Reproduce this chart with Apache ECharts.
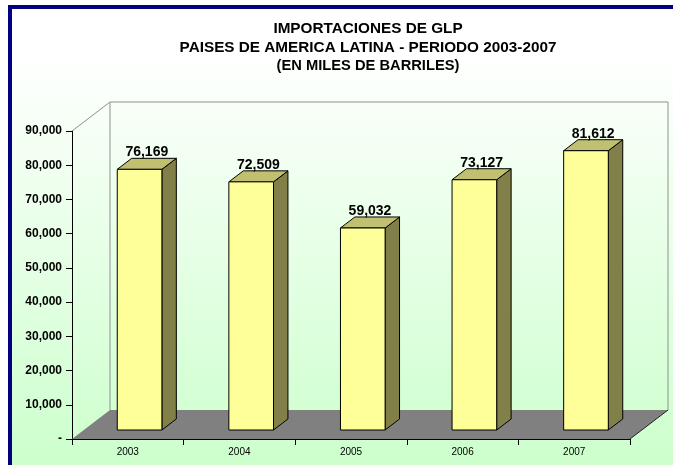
<!DOCTYPE html>
<html>
<head>
<meta charset="utf-8">
<script src="https://cdn.jsdelivr.net/npm/echarts@6/dist/echarts.min.js"></script>
<style>
  html, body { margin: 0; padding: 0; background: #fff; }
  #chart { width: 673px; height: 465px; }
</style>
</head>
<body>
<div id="chart"></div>
<script>
const years = ["2003", "2004", "2005", "2006", "2007"];
const imports = [76169, 72509, 59032, 73127, 81612];
const yMax = 90000;
const yStep = 10000;

// 3D depth of the plot box (back wall offset from the front plane)
const DX = 38;
const DY = -29;
const BAR_FRONT = 0.31; // bar sits in the middle of the floor depth
const BAR_DEPTH = 0.38;

const fmt = (v) => v.toLocaleString("en-US");

const chart = echarts.init(document.getElementById("chart"));

function renderFrame(params, api) {
  const cs = params.coordSys;
  const x = cs.x, yt = cs.y, w = cs.width, yb = cs.y + cs.height;
  return {
    type: "group",
    children: [
      {
        type: "polygon",
        shape: { points: [[x, yb], [x + w, yb], [x + w + DX, yb + DY], [x + DX, yb + DY]] },
        style: { fill: "#808080", stroke: null },
      },
      {
        type: "line",
        shape: { x1: x + w, y1: yb, x2: x + w + DX, y2: yb + DY },
        style: { stroke: "#222", lineWidth: 1 },
      },
      {
        type: "polyline",
        shape: { points: [[x + DX, yb + DY], [x + DX, yt + DY], [x + w + DX, yt + DY], [x + w + DX, yb + DY]] },
        style: { stroke: "#909090", fill: null, lineWidth: 1 },
      },
      {
        type: "line",
        shape: { x1: x, y1: yt, x2: x + DX, y2: yt + DY },
        style: { stroke: "#909090", lineWidth: 1 },
      },
    ],
  };
}

function renderBar(params, api) {
  const i = api.value(0);
  const v = api.value(1);
  const top = api.coord([i, v]);
  const base = api.coord([i, 0]);
  const w = api.size([1, 0])[0] * 0.4;
  const fx = BAR_FRONT * DX, fy = BAR_FRONT * DY;
  const sx = BAR_DEPTH * DX, sy = BAR_DEPTH * DY;
  const x0 = top[0] - w / 2 + fx;
  const x1 = x0 + w;
  const yTop = top[1] + fy;
  const yBot = base[1] + fy;
  const edge = { stroke: "#000", lineWidth: 1 };
  return {
    type: "group",
    children: [
      {
        type: "polygon",
        shape: { points: [[x1, yTop], [x1 + sx, yTop + sy], [x1 + sx, yBot + sy], [x1, yBot]] },
        style: Object.assign({ fill: "#808048" }, edge),
      },
      {
        type: "polygon",
        shape: { points: [[x0, yTop], [x0 + sx, yTop + sy], [x1 + sx, yTop + sy], [x1, yTop]] },
        style: Object.assign({ fill: "#c0c070" }, edge),
      },
      {
        type: "rect",
        shape: { x: x0, y: yTop, width: w, height: yBot - yTop },
        style: Object.assign({ fill: "#ffff99" }, edge),
      },
      {
        type: "text",
        style: {
          text: fmt(v),
          x: (x0 + x1) / 2 + sx / 2,
          y: yTop + sy + 1,
          align: "center",
          verticalAlign: "bottom",
          font: "bold 14px 'Liberation Sans', Arial, sans-serif",
          fill: "#000",
        },
      },
    ],
  };
}

const option = {
  animation: false,
  backgroundColor: "#fff",
  textStyle: { fontFamily: "'Liberation Sans', Arial, sans-serif" },
  graphic: [
    {
      type: "rect",
      z: -10,
      shape: { x: 12, y: 9, width: 661, height: 456 },
      style: {
        fill: new echarts.graphic.LinearGradient(0, 0, 0, 1, [
          { offset: 0, color: "#ffffff" },
          { offset: 0.1, color: "#ffffff" },
          { offset: 1, color: "#ccffcc" },
        ]),
      },
    },
    { type: "rect", z: -5, shape: { x: 8, y: 5, width: 665, height: 4 }, style: { fill: "#000080" } },
    { type: "rect", z: -5, shape: { x: 8, y: 5, width: 4, height: 460 }, style: { fill: "#000080" } },
  ],
  title: {
    text: "IMPORTACIONES DE GLP\nPAISES DE AMERICA LATINA - PERIODO 2003-2007",
    subtext: "(EN MILES DE BARRILES)",
    left: 368,
    top: 19,
    textAlign: "center",
    padding: 0,
    itemGap: 0,
    textStyle: { fontSize: 15.3, fontWeight: "bold", color: "#000", lineHeight: 19 },
    subtextStyle: { fontSize: 14.7, fontWeight: "bold", color: "#000", lineHeight: 18 },
  },
  grid: { left: 72, top: 131, width: 558, height: 308, containLabel: false },
  xAxis: {
    type: "category",
    data: years,
    boundaryGap: true,
    axisLine: { lineStyle: { color: "#000", width: 1 } },
    axisTick: { show: true, length: 6, lineStyle: { color: "#000" } },
    axisLabel: { color: "#000", fontSize: 10, margin: 8 },
    splitLine: { show: false },
  },
  yAxis: {
    type: "value",
    min: 0,
    max: yMax,
    interval: yStep,
    axisLine: { show: true, lineStyle: { color: "#000", width: 1 } },
    axisTick: { show: true, length: 6, lineStyle: { color: "#000" } },
    axisLabel: {
      color: "#000",
      fontSize: 12,
      fontWeight: "bold",
      margin: 10,
      formatter: (v) => (v === 0 ? "-" : fmt(v)),
    },
    splitLine: { show: false },
  },
  series: [
    {
      type: "custom",
      z: 1,
      silent: true,
      clip: false,
      renderItem: renderFrame,
      data: [[0, 0]],
    },
    {
      type: "custom",
      z: 3,
      clip: false,
      renderItem: renderBar,
      encode: { x: 0, y: 1 },
      data: imports.map((v, i) => [i, v]),
    },
  ],
};

chart.setOption(option);
</script>
</body>
</html>
